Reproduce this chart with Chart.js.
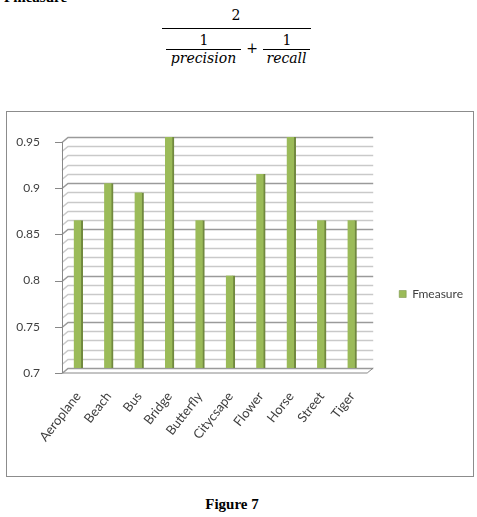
<!DOCTYPE html>
<html>
<head>
<meta charset="utf-8">
<script src="https://cdn.jsdelivr.net/npm/chart.js@4.4.0/dist/chart.umd.min.js"></script>
<style>
  html, body { margin: 0; padding: 0; background: #fff; }
  body { width: 477px; height: 517px; position: relative; overflow: hidden; }
  .abs { position: absolute; white-space: nowrap; }
  .head { left: 4px; top: -10px; font: bold 15px/15px "Liberation Serif", serif; color: #000; }
  .math { font-family: "DejaVu Serif", serif; font-size: 14px; line-height: 16px; color: #000; text-align: center; }
  .it { font-style: italic; }
  .rule { position: absolute; height: 1px; background: #000; }
  #box { position: absolute; left: 6px; top: 111px; width: 466px; height: 364px; border: 1px solid #8c8c8c; }
  #chartWrap { position: absolute; left: 0; top: 0; width: 466px; height: 364px; }
  .caption { left: 0; width: 464px; top: 496px; text-align: center; font: bold 15px/16px "Liberation Serif", serif; color: #000; }
</style>
</head>
<body>
  <div class="abs head">Fmeasure</div>

  <!-- formula -->
  <div class="abs math" style="left:226px; top:7px; width:20px;">2</div>
  <div class="rule" style="left:162px; top:28px; width:149px;"></div>
  <div class="abs math" style="left:194px; top:32px; width:20px;">1</div>
  <div class="rule" style="left:166px; top:49px; width:75px;"></div>
  <div class="abs math it" style="left:160px; top:50px; width:87px;">precision</div>
  <div class="abs math" style="left:244px; top:40px; width:16px;">+</div>
  <div class="abs math" style="left:277px; top:32px; width:20px;">1</div>
  <div class="rule" style="left:263px; top:49px; width:47px;"></div>
  <div class="abs math it" style="left:258px; top:50px; width:57px;">recall</div>

  <div id="box">
    <div id="chartWrap"><canvas id="fChart"></canvas></div>
  </div>

  <div class="abs caption">Figure 7</div>

<script>
const categories = ["Aeroplane", "Beach", "Bus", "Bridge", "Butterfly", "Citycsape", "Flower", "Horse", "Street", "Tiger"];
const fmeasure = [0.86, 0.90, 0.89, 0.95, 0.86, 0.80, 0.91, 0.95, 0.86, 0.86];
const yMin = 0.7;
const yMax = 0.95;
const yStep = 0.01;

const textColor = "#404040";
const depthX = 6;
const depthY = 5;

function isMajor(v) {
  return Math.round(v * 100) % 5 === 0;
}

// back wall, side wall and floor of the 3D-looking plot
const wall3d = {
  id: "wall3d",
  beforeDatasetsDraw(chart) {
    const { ctx, chartArea, scales } = chart;
    const y = scales.y;
    const ax = chartArea.left - 1;
    const wallLeft = ax + depthX;
    const wallRight = chartArea.right + depthX;
    ctx.save();
    y.ticks.forEach(t => {
      const py = Math.round(y.getPixelForValue(t.value)) + 0.5;
      const major = isMajor(t.value);
      ctx.lineWidth = 1.5;
      ctx.strokeStyle = major ? "#9a9a9a" : "#c9c9c9";
      ctx.beginPath();
      ctx.moveTo(ax, py + depthY);
      ctx.lineTo(wallLeft, py);
      ctx.lineTo(wallRight, py);
      ctx.stroke();
      if (major) {
        ctx.lineWidth = 1;
        ctx.strokeStyle = "#888";
        ctx.beginPath();
        ctx.moveTo(ax - 7, py + depthY);
        ctx.lineTo(ax, py + depthY);
        ctx.stroke();
      }
    });
    const top = y.getPixelForValue(yMax);
    const bottom = y.getPixelForValue(yMin);
    ctx.lineWidth = 1;
    ctx.strokeStyle = "#888";
    ctx.beginPath();
    ctx.moveTo(ax + 0.5, top + depthY);
    ctx.lineTo(ax + 0.5, bottom + depthY);
    ctx.lineTo(chartArea.right, bottom + depthY);
    ctx.lineTo(wallRight, bottom);
    ctx.stroke();
    ctx.restore();
  }
};

const canvas = document.getElementById("fChart");
const ctx = canvas.getContext("2d");

new Chart(ctx, {
  type: "bar",
  data: {
    labels: categories,
    datasets: [{
      label: "Fmeasure",
      data: fmeasure,
      backgroundColor: "#9bbb59",
      borderColor: "#71893f",
      borderWidth: { top: 0, left: 0, right: 2, bottom: 0 },
      borderSkipped: false,
      barThickness: 9
    }]
  },
  options: {
    responsive: true,
    maintainAspectRatio: false,
    animation: false,
    layout: { padding: { top: 0, left: 0, right: 0, bottom: 0 } },
    plugins: {
      title: {
        display: true,
        text: "",
        font: { size: 1, lineHeight: 1 },
        padding: { top: 24, bottom: 0 }
      },
      legend: {
        position: "right",
        align: "center",
        labels: {
          color: textColor,
          font: { family: "Lato", size: 12 },
          boxWidth: 7,
          boxHeight: 7,
          padding: 32
        }
      },
      tooltip: { enabled: false }
    },
    scales: {
      x: {
        grid: { display: false },
        border: { display: false },
        ticks: {
          color: textColor,
          font: { family: "Lato", size: 13 },
          maxRotation: 52,
          minRotation: 52,
          autoSkip: false,
          padding: 13
        },
        afterFit(scale) { scale.height = 108; }
      },
      y: {
        min: yMin,
        max: yMax,
        grid: { display: false },
        border: { display: false },
        ticks: {
          stepSize: yStep,
          color: textColor,
          font: { family: "Lato", size: 12 },
          padding: 15,
          labelOffset: depthY,
          autoSkip: false,
          callback: v => isMajor(v) ? String(Math.round(v * 100) / 100) : ""
        },
        afterFit(scale) { scale.width = 56; }
      }
    }
  },
  plugins: [wall3d]
});
</script>
</body>
</html>
